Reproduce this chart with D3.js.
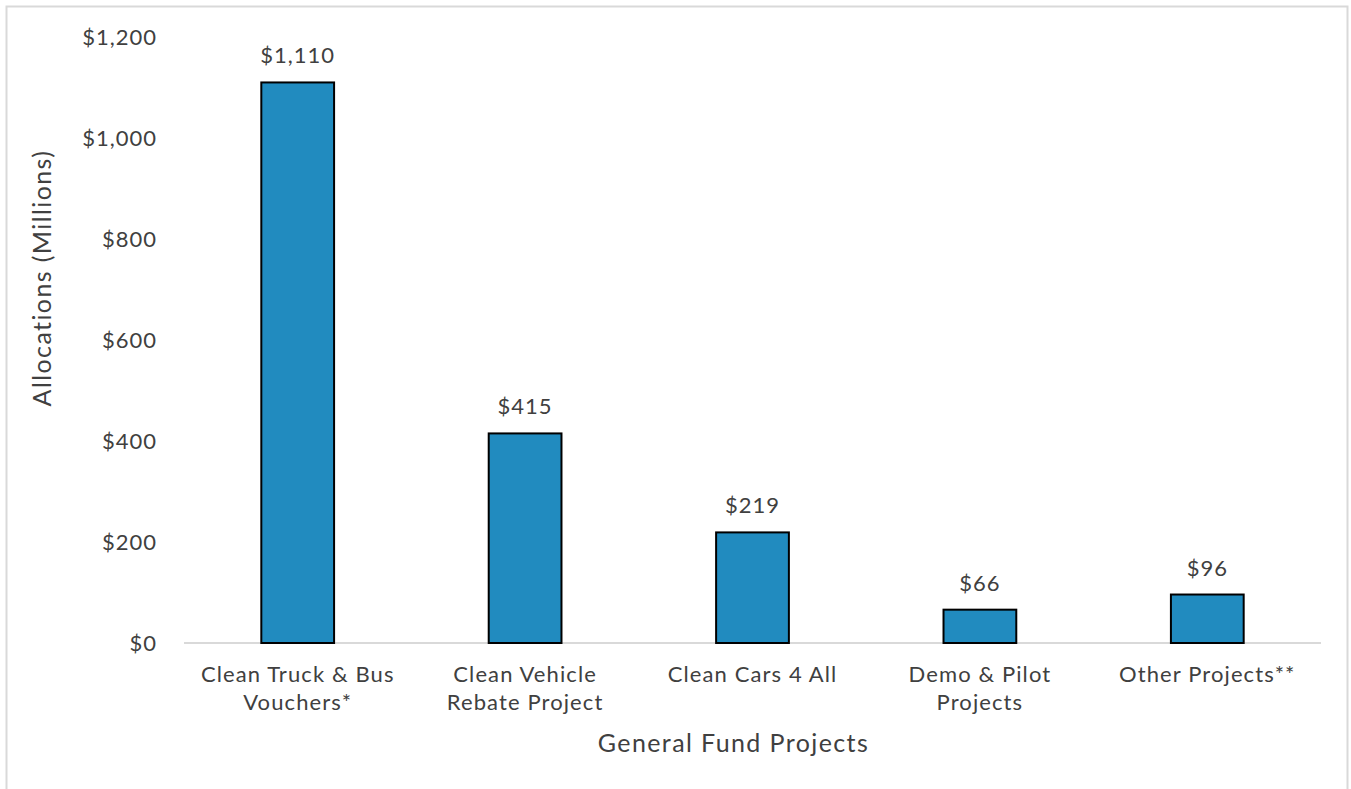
<!DOCTYPE html>
<html>
<head>
<meta charset="utf-8">
<script src="https://cdn.jsdelivr.net/npm/d3@7"></script>
<style>
  body { margin: 0; background: #fff; }
  text { font-family: Lato, "Noto Sans", sans-serif; fill: #404040; }
</style>
</head>
<body>
<div id="chart"></div>
<script>
var categories = [["Clean Truck & Bus", "Vouchers*"], ["Clean Vehicle", "Rebate Project"], ["Clean Cars 4 All"], ["Demo & Pilot", "Projects"], ["Other Projects**"]];
var values = [1110, 415, 219, 66, 96];
var yTicks = [0, 200, 400, 600, 800, 1000, 1200];

var W = 1351, H = 789;
var margin = {top: 37, right: 30, bottom: 146, left: 184},
    width = 1321 - margin.left,
    height = 643 - margin.top;

var svg = d3.select("#chart").append("svg")
    .attr("width", W).attr("height", H);

svg.append("rect")
    .attr("x", 6.5).attr("y", 6.5)
    .attr("width", 1341).attr("height", 800)
    .attr("fill", "none").attr("stroke", "#d9d9d9").attr("stroke-width", 2);

var g = svg.append("g")
    .attr("transform", "translate(" + margin.left + "," + margin.top + ")");

var x = d3.scaleBand()
    .domain(d3.range(values.length))
    .range([0, width])
    .paddingInner(0.68).paddingOuter(0.34);

var y = d3.scaleLinear().domain([0, 1200]).range([height, 0]);

var fmt = function(v) { return "$" + d3.format(",")(v); };

// y axis labels
g.selectAll(".ytick").data(yTicks).enter().append("text")
    .attr("class", "ytick")
    .attr("x", -27)
    .attr("y", function(d) { return y(d); })
    .attr("dy", "0.35em")
    .attr("text-anchor", "end")
    .style("font-size", "22px")
    .style("letter-spacing", "1px")
    .text(fmt);

// x axis line
g.append("line")
    .attr("x1", 0).attr("x2", width)
    .attr("y1", height).attr("y2", height)
    .attr("stroke", "#d9d9d9").attr("stroke-width", 2);

// bars
g.selectAll(".bar").data(values).enter().append("rect")
    .attr("class", "bar")
    .attr("x", function(d, i) { return x(i); })
    .attr("y", function(d) { return y(d); })
    .attr("width", x.bandwidth())
    .attr("height", function(d) { return height - y(d); })
    .attr("fill", "#218BBF")
    .attr("stroke", "#000").attr("stroke-width", 2);

// value labels
g.selectAll(".val").data(values).enter().append("text")
    .attr("class", "val")
    .attr("x", function(d, i) { return x(i) + x.bandwidth() / 2; })
    .attr("y", function(d) { return y(d) - 19; })
    .attr("text-anchor", "middle")
    .style("font-size", "22px")
    .style("letter-spacing", "1px")
    .text(fmt);

// category labels
var cat = g.selectAll(".cat").data(categories).enter().append("text")
    .attr("class", "cat")
    .attr("text-anchor", "middle")
    .attr("transform", function(d, i) { return "translate(" + (x(i) + x.bandwidth() / 2) + "," + (height + 39) + ")"; })
    .style("font-size", "22px")
    .style("letter-spacing", "1.1px");
cat.selectAll("tspan").data(function(d) { return d; }).enter().append("tspan")
    .attr("x", 0)
    .attr("dy", function(d, i) { return i ? 28 : 0; })
    .text(function(d) { return d; });

// axis titles
g.append("text")
    .attr("x", width / 2 - 19)
    .attr("y", height + 109)
    .attr("text-anchor", "middle")
    .style("font-size", "25px")
    .style("letter-spacing", "1.4px")
    .text("General Fund Projects");

svg.append("text")
    .attr("transform", "translate(51,278) rotate(-90)")
    .attr("text-anchor", "middle")
    .style("font-size", "25px")
    .style("letter-spacing", "1.4px")
    .text("Allocations (Millions)");
</script>
</body>
</html>
